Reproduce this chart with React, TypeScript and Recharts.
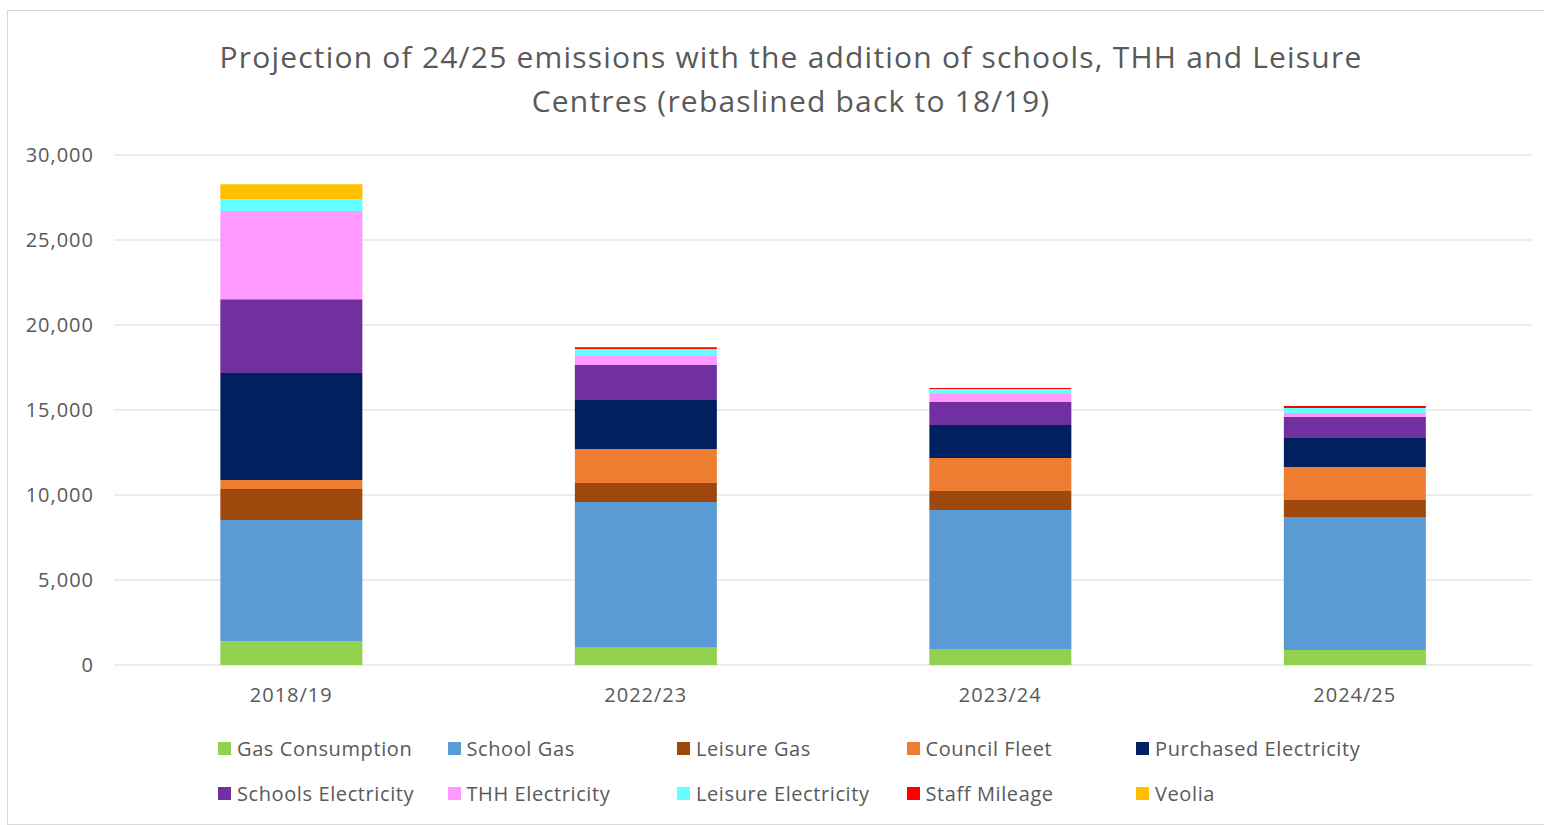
import React from 'react'
import { BarChart, Bar, XAxis, YAxis, CartesianGrid } from 'recharts'

const years = ['2018/19', '2022/23', '2023/24', '2024/25']

const gasConsumption = [1400, 1060, 940, 880]
const schoolGas = [7130, 8530, 8180, 7820]
const leisureGas = [1820, 1120, 1120, 1000]
const councilFleet = [530, 2000, 1940, 1940]
const purchasedElectricity = [6290, 2880, 1940, 1710]
const schoolsElectricity = [4350, 2060, 1350, 1240]
const thhElectricity = [5180, 530, 470, 240]
const leisureElectricity = [700, 410, 290, 290]
const staffMileage = [0, 100, 60, 110]
const veolia = [880, 0, 0, 0]

const yTicks = [0, 5000, 10000, 15000, 20000, 25000, 30000]

const series = [
    { key: 'gas', name: 'Gas Consumption', values: gasConsumption, color: '#92d050' },
    { key: 'schoolGas', name: 'School Gas', values: schoolGas, color: '#5b9bd5' },
    { key: 'leisureGas', name: 'Leisure Gas', values: leisureGas, color: '#9e480e' },
    { key: 'fleet', name: 'Council Fleet', values: councilFleet, color: '#ed7d31' },
    { key: 'purchased', name: 'Purchased Electricity', values: purchasedElectricity, color: '#002060' },
    { key: 'schoolsElec', name: 'Schools Electricity', values: schoolsElectricity, color: '#7030a0' },
    { key: 'thh', name: 'THH Electricity', values: thhElectricity, color: '#ff99ff' },
    { key: 'leisureElec', name: 'Leisure Electricity', values: leisureElectricity, color: '#66ffff' },
    { key: 'mileage', name: 'Staff Mileage', values: staffMileage, color: '#ff0000' },
    { key: 'veolia', name: 'Veolia', values: veolia, color: '#ffc000' },
]

const data = years.map((year, i) => {
    const row: Record<string, string | number> = { year }
    series.forEach(s => {
        row[s.key] = s.values[i]
    })
    return row
})

const font = '"Open Sans", "DejaVu Sans", sans-serif'
const textColor = '#595959'
const tickStyle = { fill: textColor, fontSize: 20, fontFamily: font, letterSpacing: 1 }

export default function App() {
    return (
        <div
            style={{
                position: 'absolute',
                left: 7,
                top: 10,
                width: 1540,
                height: 815,
                border: '1px solid #d9d9d9',
                background: '#fff',
                fontFamily: font,
                boxSizing: 'border-box',
            }}
        >
            <div
                style={{
                    position: 'absolute',
                    top: 24,
                    left: 0,
                    width: 1566,
                    textAlign: 'center',
                    fontSize: 30,
                    letterSpacing: 1.2,
                    lineHeight: '44px',
                    color: textColor,
                }}
            >
                Projection of 24/25 emissions with the addition of schools, THH and Leisure
                <br />
                Centres (rebaslined back to 18/19)
            </div>
            <BarChart
                width={1538}
                height={700}
                data={data}
                margin={{ top: 144, right: 14, left: 0, bottom: 0 }}
                barCategoryGap="30%"
            >
                <CartesianGrid stroke="#d9d9d9" vertical={false} />
                <XAxis
                    dataKey="year"
                    axisLine={false}
                    tickLine={false}
                    tick={tickStyle}
                    tickMargin={17}
                    height={46}
                />
                <YAxis
                    ticks={yTicks}
                    domain={[0, 30000]}
                    axisLine={false}
                    tickLine={false}
                    width={106}
                    tick={tickStyle}
                    tickFormatter={(v: number) => v.toLocaleString('en-US')}
                    tickMargin={14}
                />
                {series.map(s => (
                    <Bar
                        key={s.key}
                        dataKey={s.key}
                        name={s.name}
                        stackId="a"
                        fill={s.color}
                        isAnimationActive={false}
                    />
                ))}
            </BarChart>
            <div
                style={{
                    position: 'absolute',
                    top: 725,
                    left: 210,
                    display: 'grid',
                    gridTemplateColumns: 'repeat(5, 229.5px)',
                    rowGap: 20,
                    fontSize: 20,
                    letterSpacing: 0.6,
                    color: textColor,
                }}
            >
                {series.map(s => (
                    <div key={s.key} style={{ display: 'flex', alignItems: 'center', height: 25 }}>
                        <span
                            style={{
                                display: 'inline-block',
                                width: 13,
                                height: 13,
                                background: s.color,
                                marginRight: 6,
                            }}
                        />
                        {s.name}
                    </div>
                ))}
            </div>
        </div>
    )
}
